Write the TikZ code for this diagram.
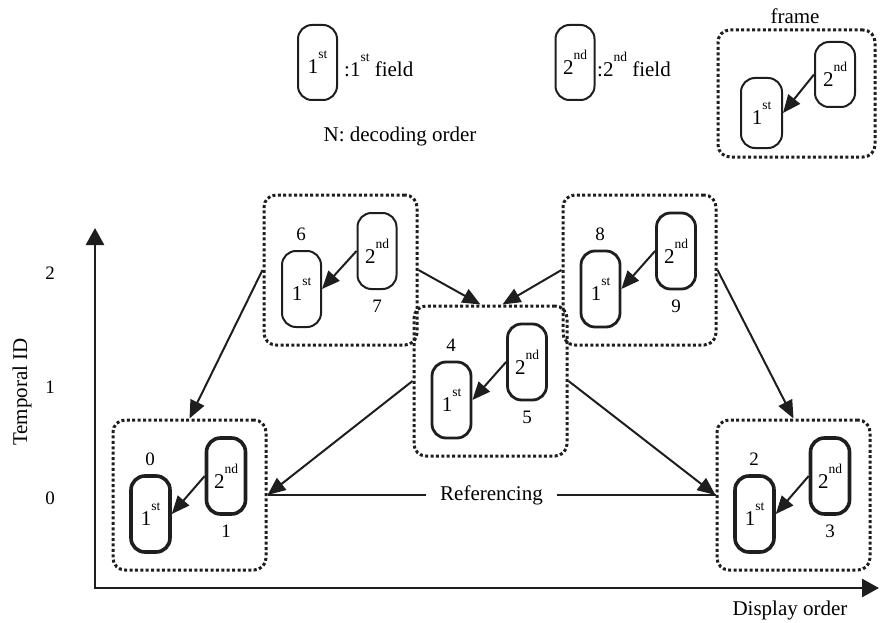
\documentclass[tikz,border=0pt]{standalone}
\usepackage{fontspec}
\setmainfont{Liberation Serif}
\usetikzlibrary{arrows.meta}
\definecolor{ink}{HTML}{1E1E1E}
\newcommand\fieldtxt[2]{{\fontsize{21}{21}\selectfont #1}\raisebox{15pt}{\fontsize{13.5}{13.5}\selectfont #2}}
\tikzset{
  frm/.style={draw=ink, line width=3pt, dash pattern=on 3pt off 2.4pt, rounded corners=12pt, minimum width=153pt, minimum height=150pt, inner sep=0pt},
  fldbox/.style={draw=ink, rounded corners=14pt, minimum width=39pt, minimum height=76pt, inner sep=0pt, text=black},
  lbl/.style={font=\fontsize{19}{19}\selectfont, inner sep=0pt},
  txt/.style={font=\fontsize{21}{21}\selectfont, inner sep=0pt},
  fa/.style={draw=ink, line width=2pt, -{Triangle[length=18pt,width=15pt]}},
}
\newcommand\vframe[6]{%
  \node[frm] (#1) at (#2+76.5, #3+75) {};
  \node[fldbox, line width=#6] (#1a) at (#2+37.5, #3+94) {\fieldtxt{1}{st}};
  \node[fldbox, line width=#6] (#1b) at (#2+113, #3+56) {\fieldtxt{2}{nd}};
  \node[lbl] (#1l) at (#2+37, #3+39) {#4};
  \node[lbl] (#1m) at (#2+113, #3+111) {#5};
  \draw[fa] (#1b.west) -- (#1a.east);
}
\begin{document}
\begin{tikzpicture}[x=1pt,y=-1pt]
\useasboundingbox (0,0) rectangle (880,623);
% legend
\node[fldbox, line width=2pt, minimum height=75pt] (lg1) at (317.5,62.5) {\fieldtxt{1}{st}};
\node[txt, anchor=base west] (lg1t) at (344,77) {:1\raisebox{15pt}{\fontsize{13.5}{13.5}\selectfont st} field};
\node[fldbox, line width=2pt, minimum height=75pt] (lg2) at (575,62.5) {\fieldtxt{2}{nd}};
\node[txt, anchor=base west] (lg2t) at (597,77) {:2\raisebox{15pt}{\fontsize{13.5}{13.5}\selectfont nd} field};
\node[txt] (order) at (400,136) {N: decoding order};
\node[frm, minimum width=157pt, minimum height=127pt] (lgf) at (796.5,93.5) {};
\node[txt] (lgft) at (795,16) {frame};
\node[fldbox, line width=2pt, minimum width=41pt, minimum height=70pt] (lgfa) at (761.5,113) {\fieldtxt{1}{st}};
\node[fldbox, line width=2pt, minimum width=40pt, minimum height=65pt] (lgfb) at (835,74.5) {\fieldtxt{2}{nd}};
\draw[fa] (lgfb.west) -- (lgfa.east);
% axes
\coordinate (o) at (95,588);
\coordinate (ytop) at (95,228);
\coordinate (xend) at (879,588);
\draw[draw=ink, line width=2.7pt, -{Triangle[length=17pt,width=18pt]}] ([yshift=-1.35pt]o) -- (ytop);
\draw[draw=ink, line width=2.7pt, -{Triangle[length=17pt,width=18pt]}] ([xshift=-1.35pt]o) -- (xend);
\node[txt, rotate=90] (tid) at (22,392) {Temporal ID};
\node[txt] (dord) at (790,610) {Display order};
\node[lbl] (t2) at (50,273) {2};
\node[lbl] (t1) at (50,387) {1};
\node[lbl] (t0) at (50,498) {0};
% frames
\vframe{f6}{264}{195}{6}{7}{2pt}
\vframe{f8}{563}{195}{8}{9}{2.8pt}
\vframe{f4}{414}{306}{4}{5}{2.8pt}
\vframe{f0}{113}{420}{0}{1}{3.6pt}
\vframe{f2}{717}{420}{2}{3}{3.6pt}
% references
\draw[fa] (f6.west) -- (f0.north);
\draw[fa] (f6.east) -- ([xshift=-10pt]f4.north);
\draw[fa] (f8.west) -- ([xshift=12pt]f4.north);
\draw[fa] (f8.east) -- (f2.north);
\draw[fa] (f4.west) -- (f0.east);
\draw[fa] (f4.east) -- (f2.west);
\draw[draw=ink, line width=2pt] (f2.west) -- node[txt, fill=white, inner xsep=14pt, inner ysep=4pt] (refl) {Referencing} (f0.east);
\end{tikzpicture}
\end{document}
